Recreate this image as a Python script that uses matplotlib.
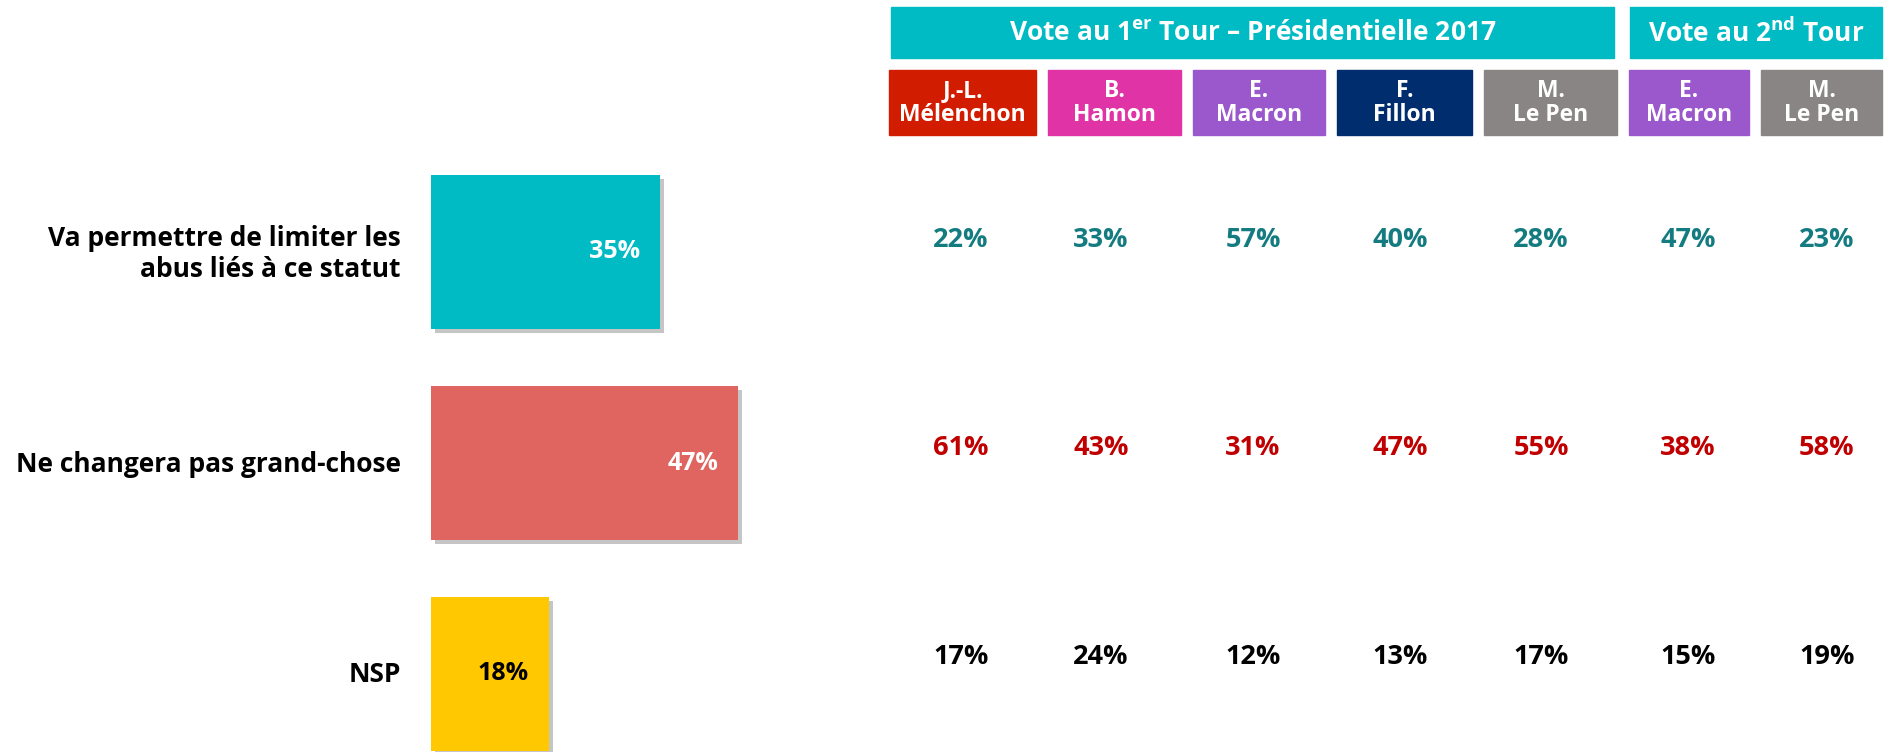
import matplotlib
matplotlib.use("Agg")
import matplotlib.pyplot as plt
import matplotlib.patheffects as pe
from matplotlib.patches import Rectangle

# DATA
categories = ["Va permettre de limiter les\nabus liés à ce statut",
              "Ne changera pas grand-chose",
              "NSP"]
totals = [35, 47, 18]
candidates = ["J.-L.\nMélenchon", "B.\nHamon", "E.\nMacron", "F.\nFillon",
              "M.\nLe Pen", "E.\nMacron", "M.\nLe Pen"]
by_candidate = [
    [22, 33, 57, 40, 28, 47, 23],
    [61, 43, 31, 47, 55, 38, 58],
    [17, 24, 12, 13, 17, 15, 19],
]

# STYLE
bar_colors = ["#00BAC4", "#E0645F", "#FFC800"]
inner_colors = ["white", "white", "black"]
row_colors = ["#147C80", "#C00000", "black"]
cand_colors = ["#D21C00", "#E033A6", "#9B57CC", "#002D6E", "#888584",
               "#9B57CC", "#888584"]
teal = "#00BAC4"

font = ["Open Sans", "DejaVu Sans"]
plt.rcParams["mathtext.fontset"] = "custom"
plt.rcParams["mathtext.rm"] = "Open Sans:bold"
plt.rcParams["mathtext.bf"] = "Open Sans:bold"

W, H = 1889, 752
fig = plt.figure(figsize=(W / 100, H / 100), dpi=100)

# overlay axes in pixel coordinates for header / text
ov = fig.add_axes([0, 0, 1, 1])
ov.set_xlim(0, W)
ov.set_ylim(H, 0)
ov.axis("off")

# bars axes: 0% at x=431 px, 6.53 px per %
x0, ppp = 431, 6.53
xmax = 60
cy0, step = 252, 211
ax = fig.add_axes([x0 / W, 0, ppp * xmax / W, 1])
ax.set_xlim(0, xmax)
ax.set_ylim((H - cy0) / step, -cy0 / step)
ax.axis("off")

heights = [0.73, 0.73, 0.73]
shadow = [pe.withSimplePatchShadow(offset=(3, -3), shadow_rgbFace="#808080", alpha=0.45)]
bars = ax.barh(range(len(totals)), totals, height=heights, color=bar_colors)
for b in bars:
    b.set_path_effects(shadow)
for i, v in enumerate(totals):
    ax.annotate(f"{v}%", (v, i), xytext=(-14, 0), textcoords="offset points",
                ha="right", va="center", fontsize=18, fontweight="bold",
                color=inner_colors[i], family=font)

# category labels
label_y = [254, 465, 675]
for lab, y in zip(categories, label_y):
    ov.text(401, y, lab, ha="right", va="center", fontsize=19,
            fontweight="bold", family=font, linespacing=1.2)

# header boxes
ov.add_patch(Rectangle((891, 7), 1614 - 891, 51, color=teal))
ov.add_patch(Rectangle((1630, 7), 1882 - 1630, 51, color=teal))
ov.text((891 + 1614) / 2, 33, r"Vote au 1$^{\mathrm{er}}$ Tour – Présidentielle 2017",
        ha="center", va="center", fontsize=19, fontweight="bold",
        color="white", family=font)
ov.text((1630 + 1882) / 2, 33, r"Vote au 2$^{\mathrm{nd}}$ Tour",
        ha="center", va="center", fontsize=19, fontweight="bold",
        color="white", family=font)

box_l = [889, 1048, 1193, 1337, 1484, 1629, 1761]
box_r = [1036, 1181, 1325, 1472, 1617, 1749, 1882]
for name, c, l, r in zip(candidates, cand_colors, box_l, box_r):
    ov.add_patch(Rectangle((l, 70), r - l, 65, color=c))
    ov.text((l + r) / 2, 103, name, ha="center", va="center", fontsize=16.5,
            fontweight="bold", color="white", family=font,
            linespacing=0.95)

# table values
col_x = [961, 1101, 1253, 1400, 1541, 1688, 1827]
row_y = [240, 448, 657]
for vals, y, col in zip(by_candidate, row_y, row_colors):
    for v, x in zip(vals, col_x):
        ov.text(x, y, f"{v}%", ha="center", va="center", fontsize=19.5,
                fontweight="bold", color=col, family=font)

fig.savefig("out.png", dpi=100)
